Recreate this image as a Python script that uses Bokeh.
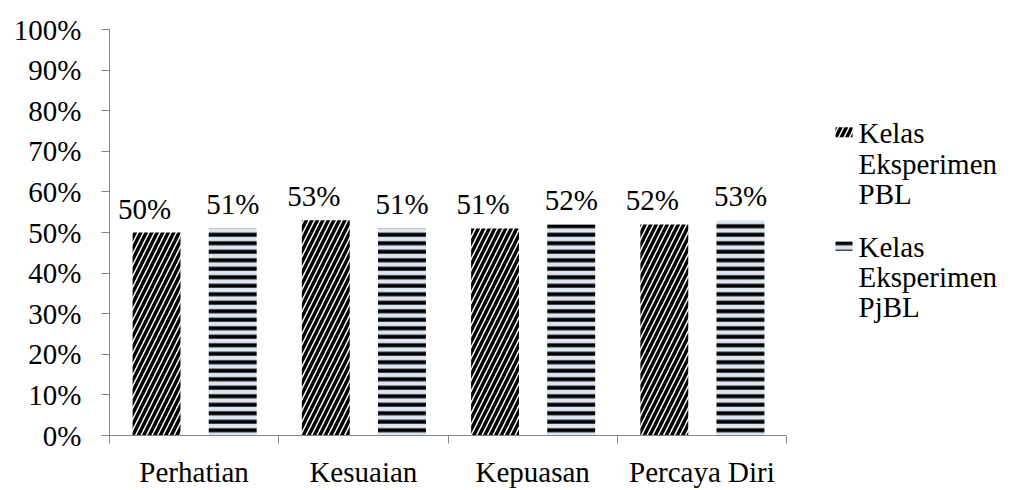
from bokeh.plotting import figure
from bokeh.layouts import row
from bokeh.models import (ColumnDataSource, FixedTicker, Range1d, LabelSet, Label,
                          NumeralTickFormatter)
from bokeh.embed import file_html
from bokeh.resources import INLINE

categories = ["Perhatian", "Kesuaian", "Kepuasan", "Percaya Diri"]
series_names = [["Kelas", "Eksperimen", "PBL"], ["Kelas", "Eksperimen", "PjBL"]]
pbl = [50, 53, 51, 52]
pjbl = [51, 51, 52, 53]

FONT = "Times New Roman"
FS = "29px"

idx = list(range(len(categories)))
centers = [i + 0.5 for i in idx]
src_pbl = ColumnDataSource(dict(
    x=[c - 0.222 for c in centers], top=[v / 100 for v in pbl],
    lab=[f"{v}%" for v in pbl]))
src_pjbl = ColumnDataSource(dict(
    x=[c + 0.228 for c in centers], top=[v / 100 for v in pjbl],
    lab=[f"{v}%" for v in pjbl]))

W_MAIN = 796
p = figure(width=W_MAIN, height=490, output_backend="svg", toolbar_location=None,
           x_range=Range1d(0, len(categories)), y_range=Range1d(0, 1))
p.min_border_left = 109
p.min_border_right = 10
p.min_border_top = 29
p.min_border_bottom = 52
p.outline_line_color = None
p.xgrid.visible = False
p.ygrid.visible = False
p.background_fill_color = "white"
p.border_fill_color = "white"

pbl_style = dict(fill_color="white", line_color=None,
                 hatch_pattern="right_diagonal_line", hatch_color="black",
                 hatch_scale=11, hatch_weight=3.5)
pjbl_style = dict(fill_color="#dce6f2", line_color=None,
                  hatch_pattern="horizontal_line", hatch_color="black",
                  hatch_scale=8.5, hatch_weight=4)

p.vbar(x="x", top="top", width=0.283, source=src_pbl, **pbl_style)
p.vbar(x="x", top="top", width=0.283, source=src_pjbl, **pjbl_style)

lab_kw = dict(text_font=FONT, text_font_size=FS, text_color="black",
              text_align="center", text_baseline="bottom", y_offset=8)
p.add_layout(LabelSet(x="x", y="top", text="lab", source=src_pbl, x_offset=-12, **lab_kw))
p.add_layout(LabelSet(x="x", y="top", text="lab", source=src_pjbl, x_offset=0, **lab_kw))

# y axis
p.yaxis.ticker = FixedTicker(ticks=[i / 10 for i in range(11)])
p.yaxis.formatter = NumeralTickFormatter(format="0%")
p.yaxis.major_label_text_font = FONT
p.yaxis.major_label_text_font_size = FS
p.yaxis.major_label_text_color = "black"
p.yaxis.major_tick_in = 0
p.yaxis.major_tick_out = 8
p.yaxis.minor_tick_line_color = None
p.yaxis.axis_line_color = "#868686"
p.yaxis.major_tick_line_color = "#868686"
p.yaxis.major_label_standoff = 20

# x axis
p.xaxis.ticker = FixedTicker(ticks=centers, minor_ticks=[float(i) for i in range(len(categories) + 1)])
p.xaxis.major_label_overrides = {c: n for c, n in zip(centers, categories)}
p.xaxis.major_label_text_font = FONT
p.xaxis.major_label_text_font_size = FS
p.xaxis.major_label_text_color = "black"
p.xaxis.major_tick_line_color = None
p.xaxis.minor_tick_in = 0
p.xaxis.minor_tick_out = 8
p.xaxis.minor_tick_line_color = "#868686"
p.xaxis.axis_line_color = "#868686"
p.xaxis.major_label_standoff = 12

# legend panel: pixel-coordinate figure
W_LEG = 1013 - W_MAIN
lg = figure(width=W_LEG, height=490, output_backend="svg", toolbar_location=None,
            x_range=Range1d(W_MAIN, 1013), y_range=Range1d(490, 0),
            min_border=0)
lg.axis.visible = False
lg.grid.visible = False
lg.outline_line_color = None
lg.background_fill_color = "white"
lg.border_fill_color = "white"

sw_left, sw_right = 835, 852
sw_boxes = [(118, 130), (256, 267)]
text_x = 858
line_y = [[125, 162, 198], [262, 299, 335]]
for k, st in enumerate([pbl_style, pjbl_style]):
    t, b = sw_boxes[k]
    lg.quad(left=[sw_left], right=[sw_right], top=[t], bottom=[b], **st)
    for j, txt in enumerate(series_names[k]):
        lg.add_layout(Label(x=text_x, y=line_y[k][j], text=txt,
                            text_font=FONT, text_font_size=FS, text_color="black",
                            text_baseline="middle", text_align="left"))

layout = row(p, lg, spacing=0)
open("out.html", "w").write(file_html(layout, INLINE))
